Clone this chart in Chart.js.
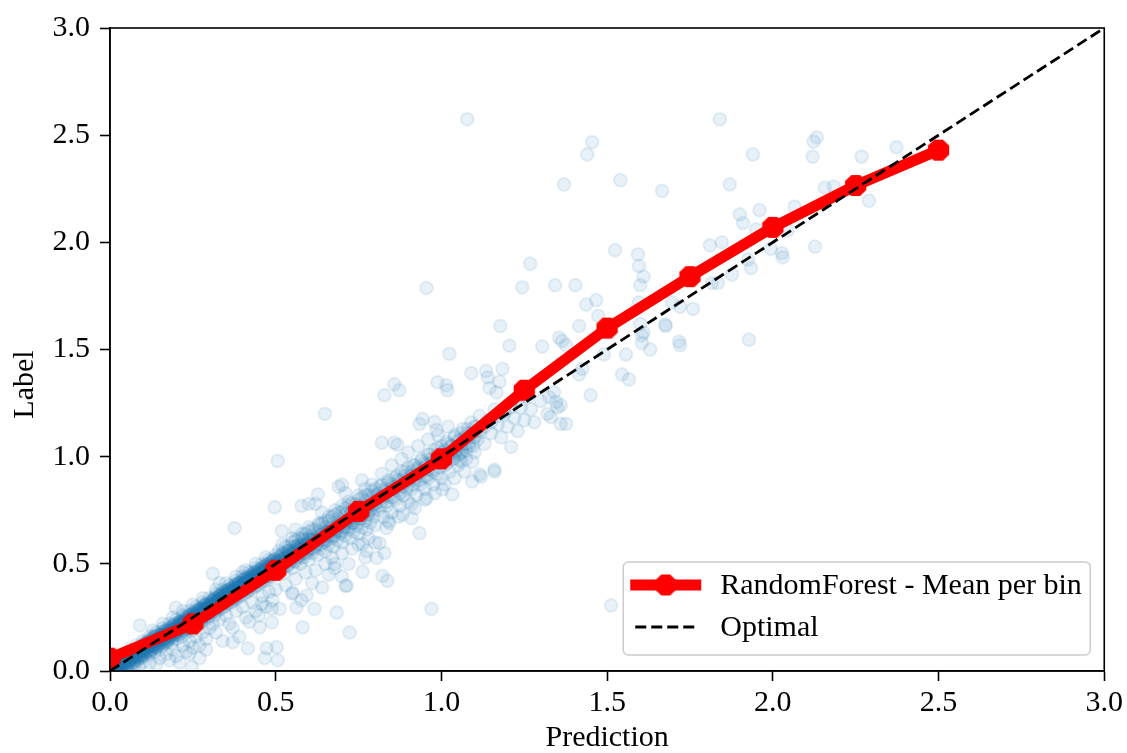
<!DOCTYPE html>
<html>
<head>
<meta charset="utf-8">
<script src="https://cdn.jsdelivr.net/npm/chart.js@4/dist/chart.umd.min.js"></script>
<style>
  html, body { margin: 0; padding: 0; background: #ffffff; }
  #wrap { width: 1127px; height: 753px; }
</style>
</head>
<body>
<div id="wrap"><canvas id="c" width="1127" height="753"></canvas></div>
<script>
// ---------- DATA ----------
const tickValues = [0.0, 0.5, 1.0, 1.5, 2.0, 2.5, 3.0];

// mean per bin (RandomForest)
const binPrediction = [0.0, 0.25, 0.5, 0.75, 1.0, 1.25, 1.5, 1.75, 2.0, 2.25, 2.5];
const binLabel      = [0.06, 0.22, 0.47, 0.745, 0.99, 1.31, 1.60, 1.84, 2.07, 2.265, 2.43];

// optimal diagonal
const optimalX = [0.0, 3.0];
const optimalY = [0.0, 3.0];

// scatter [prediction, label] — dense band near the diagonal
const bandLow = [
[0.005,0.00],[0.008,0.02],[0.01,0.01],[0.012,0.03],[0.015,0.00],[0.018,0.02],[0.02,0.04],[0.022,0.01],[0.025,0.03],[0.028,0.00],
[0.03,0.05],[0.032,0.02],[0.035,0.04],[0.037,0.01],[0.04,0.03],[0.042,0.06],[0.045,0.02],[0.047,0.04],[0.05,0.05],[0.052,0.01],
[0.055,0.07],[0.057,0.03],[0.06,0.05],[0.062,0.02],[0.065,0.06],[0.067,0.08],[0.07,0.04],[0.072,0.06],[0.075,0.03],[0.077,0.09],
[0.08,0.07],[0.082,0.05],[0.085,0.08],[0.087,0.02],[0.09,0.09],[0.092,0.06],[0.095,0.10],[0.097,0.04],[0.10,0.08],[0.10,0.11],
[0.013,0.01],[0.023,0.02],[0.033,0.03],[0.043,0.04],[0.053,0.04],[0.063,0.06],[0.073,0.07],[0.083,0.07],[0.093,0.09],[0.103,0.09]
];
const bandA = [
[0.102,0.10],[0.105,0.13],[0.107,0.07],[0.11,0.12],[0.112,0.09],[0.115,0.14],[0.117,0.11],[0.12,0.08],[0.122,0.13],[0.125,0.15],
[0.127,0.10],[0.13,0.12],[0.132,0.16],[0.135,0.09],[0.137,0.14],[0.14,0.11],[0.142,0.17],[0.145,0.13],[0.147,0.15],[0.15,0.10],
[0.152,0.16],[0.155,0.14],[0.157,0.18],[0.16,0.12],[0.162,0.15],[0.165,0.17],[0.167,0.13],[0.17,0.19],[0.172,0.16],[0.175,0.14],
[0.177,0.18],[0.18,0.15],[0.182,0.20],[0.185,0.17],[0.187,0.13],[0.19,0.19],[0.192,0.16],[0.195,0.21],[0.197,0.18],[0.20,0.15],
[0.202,0.20],[0.205,0.22],[0.207,0.17],[0.21,0.19],[0.212,0.23],[0.215,0.20],[0.217,0.16],[0.22,0.22],[0.222,0.19],[0.225,0.24],
[0.227,0.21],[0.23,0.18],[0.232,0.23],[0.235,0.25],[0.237,0.20],[0.24,0.22],[0.242,0.26],[0.245,0.24],[0.247,0.19],[0.25,0.23],
[0.252,0.27],[0.255,0.25],[0.257,0.21],[0.26,0.24],[0.262,0.28],[0.265,0.26],[0.267,0.22],[0.27,0.25],[0.272,0.29],[0.275,0.27],
[0.277,0.23],[0.28,0.26],[0.282,0.30],[0.285,0.28],[0.287,0.24],[0.29,0.27],[0.292,0.31],[0.295,0.29],[0.297,0.25],[0.30,0.28],
[0.101,0.12],[0.106,0.10],[0.111,0.13],[0.116,0.12],[0.121,0.11],[0.126,0.13],[0.131,0.14],[0.136,0.12],[0.141,0.15],[0.146,0.14],
[0.151,0.13],[0.156,0.16],[0.161,0.17],[0.166,0.15],[0.171,0.17],[0.176,0.16],[0.181,0.18],[0.186,0.19],[0.191,0.17],[0.196,0.19],
[0.201,0.18],[0.206,0.20],[0.211,0.21],[0.216,0.22],[0.221,0.20],[0.226,0.23],[0.231,0.21],[0.236,0.23],[0.241,0.24],[0.246,0.22],
[0.251,0.25],[0.256,0.26],[0.261,0.23],[0.266,0.27],[0.271,0.27],[0.276,0.25],[0.281,0.28],[0.286,0.29],[0.291,0.26],[0.296,0.30],
[0.113,0.11],[0.123,0.12],[0.133,0.12],[0.143,0.14],[0.153,0.15],[0.163,0.15],[0.173,0.17],[0.183,0.18],[0.193,0.18],[0.203,0.20],
[0.213,0.21],[0.223,0.21],[0.233,0.23],[0.243,0.24],[0.253,0.24],[0.263,0.26],[0.273,0.27],[0.283,0.27],[0.293,0.29]
];
const bandB = [
[0.302,0.31],[0.305,0.27],[0.307,0.33],[0.31,0.29],[0.312,0.32],[0.315,0.26],[0.317,0.34],[0.32,0.30],[0.322,0.33],[0.325,0.28],
[0.327,0.35],[0.33,0.31],[0.332,0.34],[0.335,0.29],[0.337,0.36],[0.34,0.32],[0.342,0.35],[0.345,0.30],[0.347,0.37],[0.35,0.33],
[0.352,0.36],[0.355,0.31],[0.357,0.38],[0.36,0.34],[0.362,0.37],[0.365,0.32],[0.367,0.39],[0.37,0.35],[0.372,0.38],[0.375,0.33],
[0.377,0.40],[0.38,0.36],[0.382,0.39],[0.385,0.34],[0.387,0.41],[0.39,0.37],[0.392,0.40],[0.395,0.35],[0.397,0.42],[0.40,0.38],
[0.402,0.41],[0.405,0.36],[0.407,0.43],[0.41,0.39],[0.412,0.42],[0.415,0.37],[0.417,0.44],[0.42,0.40],[0.422,0.43],[0.425,0.38],
[0.427,0.45],[0.43,0.41],[0.432,0.44],[0.435,0.39],[0.437,0.46],[0.44,0.42],[0.442,0.45],[0.445,0.40],[0.447,0.47],[0.45,0.43],
[0.452,0.46],[0.455,0.41],[0.457,0.48],[0.46,0.44],[0.462,0.47],[0.465,0.42],[0.467,0.49],[0.47,0.45],[0.472,0.48],[0.475,0.43],
[0.477,0.50],[0.48,0.46],[0.482,0.49],[0.485,0.44],[0.487,0.51],[0.49,0.47],[0.492,0.50],[0.495,0.45],[0.497,0.52],[0.50,0.48],
[0.303,0.30],[0.308,0.31],[0.313,0.30],[0.318,0.32],[0.323,0.31],[0.328,0.33],[0.333,0.32],[0.338,0.34],[0.343,0.33],[0.348,0.35],
[0.353,0.34],[0.358,0.36],[0.363,0.35],[0.368,0.37],[0.373,0.36],[0.378,0.38],[0.383,0.37],[0.388,0.39],[0.393,0.38],[0.398,0.40],
[0.403,0.39],[0.408,0.41],[0.413,0.40],[0.418,0.42],[0.423,0.41],[0.428,0.43],[0.433,0.42],[0.438,0.44],[0.443,0.43],[0.448,0.45],
[0.453,0.44],[0.458,0.46],[0.463,0.45],[0.468,0.47],[0.473,0.46],[0.478,0.48],[0.483,0.47],[0.488,0.49],[0.493,0.48],[0.498,0.50],
[0.313,0.31],[0.323,0.32],[0.343,0.34],[0.353,0.35],[0.373,0.37],[0.383,0.38],[0.403,0.40],[0.413,0.41],[0.433,0.43],[0.443,0.44],
[0.463,0.46],[0.473,0.47],[0.493,0.49]
];
const bandC = [
[0.505,0.51],[0.51,0.47],[0.515,0.54],[0.52,0.50],[0.525,0.46],[0.53,0.53],[0.535,0.49],[0.54,0.56],[0.545,0.52],[0.55,0.48],
[0.555,0.55],[0.56,0.51],[0.565,0.58],[0.57,0.54],[0.575,0.50],[0.58,0.57],[0.585,0.53],[0.59,0.60],[0.595,0.56],[0.60,0.52],
[0.605,0.59],[0.61,0.55],[0.615,0.62],[0.62,0.58],[0.625,0.54],[0.63,0.61],[0.635,0.57],[0.64,0.64],[0.645,0.60],[0.65,0.56],
[0.655,0.63],[0.66,0.59],[0.665,0.66],[0.67,0.62],[0.675,0.58],[0.68,0.65],[0.685,0.61],[0.69,0.68],[0.695,0.64],[0.70,0.60],
[0.705,0.67],[0.71,0.63],[0.715,0.70],[0.72,0.66],[0.725,0.62],[0.73,0.69],[0.735,0.65],[0.74,0.72],[0.745,0.68],[0.75,0.64],
[0.755,0.71],[0.76,0.67],[0.765,0.74],[0.77,0.70],[0.775,0.66],[0.78,0.73],[0.785,0.69],[0.79,0.76],[0.795,0.72],[0.80,0.68],
[0.508,0.50],[0.518,0.52],[0.528,0.51],[0.538,0.53],[0.548,0.55],[0.558,0.54],[0.568,0.56],[0.578,0.58],[0.588,0.57],[0.598,0.59],
[0.608,0.61],[0.618,0.60],[0.628,0.62],[0.638,0.64],[0.648,0.63],[0.658,0.65],[0.668,0.67],[0.678,0.66],[0.688,0.68],[0.698,0.70],
[0.708,0.69],[0.718,0.71],[0.728,0.73],[0.738,0.72],[0.748,0.74],[0.758,0.76],[0.768,0.75],[0.778,0.77],[0.788,0.79],[0.798,0.78],
[0.513,0.51],[0.533,0.53],[0.553,0.55],[0.573,0.57],[0.593,0.59],[0.613,0.61],[0.633,0.63],[0.653,0.65]
];
const bandD = [
[0.805,0.82],[0.81,0.75],[0.815,0.86],[0.82,0.79],[0.825,0.72],[0.83,0.84],[0.835,0.77],[0.84,0.88],[0.845,0.81],[0.85,0.74],
[0.855,0.86],[0.86,0.80],[0.865,0.91],[0.87,0.84],[0.875,0.77],[0.88,0.89],[0.885,0.82],[0.89,0.93],[0.895,0.86],[0.90,0.79],
[0.905,0.91],[0.91,0.85],[0.915,0.96],[0.92,0.89],[0.925,0.82],[0.93,0.94],[0.935,0.87],[0.94,0.98],[0.945,0.91],[0.95,0.85],
[0.955,0.96],[0.96,0.90],[0.965,1.01],[0.97,0.94],[0.975,0.87],[0.98,0.99],[0.985,0.92],[0.99,1.04],[0.995,0.97],[1.00,0.90],
[1.005,1.02],[1.01,0.96],[1.015,1.07],[1.02,1.00],[1.025,0.93],[1.03,1.05],[1.035,0.99],[1.04,1.10],[1.045,1.03],[1.05,0.96],
[1.055,1.08],[1.06,1.02],[1.065,1.13],[1.07,1.06],[1.075,0.99],[1.08,1.11],[1.085,1.05],[1.09,1.16],[1.095,1.09],[1.10,1.02],
[1.105,1.14],[1.11,1.08],[1.115,1.19],[1.12,1.12],[1.13,1.06],[1.14,1.17],[1.15,1.11],[1.16,1.22],[1.17,1.15],[1.18,1.09],
[1.19,1.20],[1.20,1.14],[1.21,1.25],[1.22,1.18],[1.23,1.12],[1.24,1.23],[1.25,1.17],[1.26,1.28],[1.27,1.22],[1.28,1.16],
[1.30,1.26],[1.32,1.20],[1.34,1.30],[1.36,1.24],
[0.81,0.81],[0.83,0.82],[0.85,0.85],[0.87,0.87],[0.89,0.88],[0.91,0.91],[0.93,0.92],[0.95,0.95],[0.97,0.97],[0.99,0.98],
[1.01,1.01],[1.03,1.02],[1.05,1.05],[1.07,1.08],[1.09,1.10],[1.11,1.12],[1.13,1.14],[1.15,1.16],[1.17,1.19],[1.19,1.21],
[1.21,1.23],[1.23,1.26]
];
const bandUpper = [
[0.01,0.03],[0.02,0.05],[0.03,0.05],[0.04,0.08],[0.05,0.07],[0.06,0.10],[0.07,0.09],[0.08,0.12],[0.09,0.11],[0.10,0.14],
[0.11,0.13],[0.12,0.16],[0.13,0.15],[0.14,0.18],[0.15,0.17],[0.16,0.20],[0.17,0.19],[0.18,0.22],[0.19,0.21],[0.20,0.24],
[0.21,0.23],[0.22,0.26],[0.23,0.25],[0.24,0.28],[0.25,0.27],[0.26,0.30],[0.27,0.29],[0.28,0.32],[0.29,0.31],[0.30,0.34],
[0.31,0.33],[0.32,0.36],[0.33,0.35],[0.34,0.38],[0.35,0.37],[0.36,0.40],[0.37,0.39],[0.38,0.42],[0.39,0.41],[0.40,0.44],
[0.41,0.43],[0.42,0.46],[0.43,0.45],[0.44,0.48],[0.45,0.47],[0.46,0.50],[0.47,0.49],[0.48,0.52],[0.49,0.51],[0.50,0.54],
[0.51,0.56],[0.52,0.55],[0.53,0.58],[0.54,0.58],[0.55,0.60],[0.56,0.61],[0.57,0.62],[0.58,0.62],[0.59,0.64],[0.60,0.65],
[0.61,0.66],[0.62,0.66],[0.63,0.68],[0.64,0.69],[0.65,0.70],[0.66,0.70],[0.67,0.72],[0.68,0.73],[0.69,0.74],[0.70,0.74],
[0.71,0.76],[0.72,0.77],[0.73,0.78],[0.74,0.78],[0.75,0.80],[0.76,0.81],[0.77,0.82],[0.78,0.82],[0.79,0.84],[0.80,0.85],
[0.82,0.87],[0.84,0.89],[0.86,0.90],[0.88,0.93],[0.90,0.95],[0.92,0.96],[0.94,0.99],[0.96,1.01],[0.98,1.03],[1.00,1.05],
[1.02,1.06],[1.04,1.09],[1.06,1.11],[1.08,1.13],[1.10,1.14]
];
const bandLower = [
[0.015,0.00],[0.025,0.01],[0.035,0.01],[0.045,0.03],[0.055,0.03],[0.065,0.05],[0.075,0.05],[0.085,0.06],[0.095,0.07],[0.105,0.08],
[0.115,0.09],[0.125,0.10],[0.135,0.11],[0.145,0.12],[0.155,0.13],[0.165,0.14],[0.175,0.15],[0.185,0.16],[0.195,0.17],[0.205,0.18],
[0.215,0.18],[0.225,0.20],[0.235,0.20],[0.245,0.22],[0.255,0.22],[0.265,0.24],[0.275,0.24],[0.285,0.26],[0.295,0.26],[0.305,0.28],
[0.315,0.28],[0.325,0.30],[0.335,0.30],[0.345,0.32],[0.355,0.32],[0.365,0.34],[0.375,0.34],[0.385,0.36],[0.395,0.36],[0.405,0.38],
[0.415,0.38],[0.425,0.40],[0.435,0.40],[0.445,0.42],[0.455,0.42],[0.465,0.44],[0.475,0.44],[0.485,0.46],[0.495,0.46],
[0.515,0.47],[0.525,0.49],[0.535,0.49],[0.545,0.51],[0.555,0.51],[0.565,0.53],[0.575,0.53],[0.585,0.55],[0.595,0.55],[0.605,0.57],
[0.615,0.57],[0.625,0.59],[0.635,0.59],[0.645,0.61],[0.655,0.61],[0.665,0.63],[0.675,0.63],[0.685,0.65],[0.695,0.65],[0.705,0.67],
[0.715,0.67],[0.725,0.69],[0.735,0.69],[0.745,0.71],[0.755,0.71],[0.765,0.73],[0.775,0.73],[0.785,0.75],[0.795,0.75],[0.815,0.77],
[0.835,0.79],[0.855,0.81],[0.875,0.83],[0.895,0.85],[0.915,0.87],[0.935,0.89],[0.955,0.91],[0.975,0.93],[0.995,0.95],[1.015,0.97],
[1.035,0.99],[1.055,1.01],[1.075,1.03],[1.095,1.05]
];
const bandCore = [
[0.012,0.02],[0.022,0.03],[0.032,0.04],[0.042,0.05],[0.052,0.06],[0.062,0.07],[0.072,0.08],[0.082,0.09],[0.092,0.10],[0.102,0.11],
[0.112,0.12],[0.122,0.13],[0.132,0.14],[0.142,0.15],[0.152,0.16],[0.162,0.17],[0.172,0.18],[0.182,0.19],[0.192,0.20],[0.202,0.21],
[0.212,0.22],[0.222,0.23],[0.232,0.24],[0.242,0.25],[0.252,0.26],[0.262,0.27],[0.272,0.28],[0.282,0.29],[0.292,0.30],[0.302,0.31],
[0.312,0.32],[0.322,0.33],[0.332,0.34],[0.342,0.35],[0.352,0.36],[0.362,0.37],[0.372,0.38],[0.382,0.39],[0.392,0.40],[0.402,0.41],
[0.412,0.42],[0.422,0.43],[0.432,0.44],[0.442,0.45]
];
const bandDense1 = [
[0.005,0.01],[0.01,0.00],[0.015,0.04],[0.02,0.02],[0.025,0.01],[0.03,0.05],[0.035,0.04],[0.04,0.03],[0.045,0.07],[0.05,0.05],
[0.055,0.04],[0.06,0.08],[0.065,0.07],[0.07,0.06],[0.075,0.10],[0.08,0.08],[0.085,0.07],[0.09,0.11],[0.095,0.10],[0.10,0.09],
[0.105,0.13],[0.11,0.11],[0.115,0.10],[0.12,0.14],[0.125,0.13],[0.13,0.12],[0.135,0.16],[0.14,0.14],[0.145,0.13],[0.15,0.17],
[0.155,0.16],[0.16,0.15],[0.165,0.19],[0.17,0.17],[0.175,0.16],[0.18,0.20],[0.185,0.19],[0.19,0.18],[0.195,0.22],[0.20,0.20],
[0.205,0.19],[0.21,0.23],[0.215,0.22],[0.22,0.21],[0.225,0.25],[0.23,0.23],[0.235,0.22],[0.24,0.26],[0.245,0.25],[0.25,0.24],
[0.255,0.28],[0.26,0.26],[0.265,0.25],[0.27,0.29],[0.275,0.28],[0.28,0.27],[0.285,0.31],[0.29,0.29],[0.295,0.28],[0.30,0.32],
[0.305,0.31],[0.31,0.30],[0.315,0.34],[0.32,0.32],[0.325,0.31],[0.33,0.35],[0.335,0.34],[0.34,0.33],[0.345,0.37],[0.35,0.35],
[0.355,0.34],[0.36,0.38],[0.365,0.37],[0.37,0.36],[0.375,0.40],[0.38,0.38],[0.385,0.37],[0.39,0.41],[0.395,0.40],[0.40,0.39],
[0.405,0.43],[0.41,0.41],[0.415,0.40],[0.42,0.44],[0.425,0.43],[0.43,0.42],[0.435,0.46],[0.44,0.44],[0.445,0.43],[0.45,0.47],
[0.455,0.46],[0.46,0.45],[0.465,0.49],[0.47,0.47],[0.475,0.46],[0.48,0.50],[0.485,0.49],[0.49,0.48],[0.495,0.52],[0.50,0.50],
[0.505,0.49],[0.51,0.53],[0.515,0.52],[0.52,0.51],[0.525,0.55],[0.53,0.53],[0.535,0.52],[0.54,0.56],[0.545,0.55],[0.55,0.54],
[0.555,0.58],[0.56,0.56],[0.565,0.55],[0.57,0.59],[0.575,0.58],[0.58,0.57],[0.585,0.61],[0.59,0.59],[0.595,0.58],[0.60,0.62]
];
const bandDense2 = [
[0.007,0.00],[0.012,0.03],[0.017,0.02],[0.022,0.00],[0.027,0.04],[0.032,0.02],[0.037,0.06],[0.042,0.04],[0.047,0.02],[0.052,0.06],
[0.057,0.05],[0.062,0.08],[0.067,0.07],[0.072,0.04],[0.077,0.09],[0.082,0.07],[0.087,0.11],[0.092,0.09],[0.097,0.07],[0.102,0.11],
[0.107,0.10],[0.112,0.13],[0.117,0.12],[0.122,0.09],[0.127,0.14],[0.132,0.12],[0.137,0.16],[0.142,0.14],[0.147,0.12],[0.152,0.16],
[0.157,0.15],[0.162,0.18],[0.167,0.17],[0.172,0.14],[0.177,0.19],[0.182,0.17],[0.187,0.21],[0.192,0.19],[0.197,0.17],[0.202,0.21],
[0.207,0.20],[0.212,0.23],[0.217,0.22],[0.222,0.19],[0.227,0.24],[0.232,0.22],[0.237,0.26],[0.242,0.24],[0.247,0.22],[0.252,0.26],
[0.257,0.25],[0.262,0.28],[0.267,0.27],[0.272,0.24],[0.277,0.29],[0.282,0.27],[0.287,0.31],[0.292,0.29],[0.297,0.27],[0.302,0.31],
[0.307,0.30],[0.312,0.33],[0.317,0.32],[0.322,0.29],[0.327,0.34],[0.332,0.32],[0.337,0.36],[0.342,0.34],[0.347,0.32],[0.352,0.36],
[0.357,0.35],[0.362,0.38],[0.367,0.37],[0.372,0.34],[0.377,0.39],[0.382,0.37],[0.387,0.41],[0.392,0.39],[0.397,0.37],[0.402,0.41],
[0.407,0.40],[0.412,0.43],[0.417,0.42],[0.422,0.39],[0.427,0.44],[0.432,0.42],[0.437,0.46],[0.442,0.44],[0.447,0.42],[0.452,0.46],
[0.457,0.45],[0.462,0.48],[0.467,0.47],[0.472,0.44],[0.477,0.49],[0.482,0.47],[0.487,0.51],[0.492,0.49],[0.497,0.47],[0.502,0.51],
[0.507,0.50],[0.512,0.53],[0.517,0.52],[0.522,0.49],[0.527,0.54],[0.532,0.52],[0.537,0.56],[0.542,0.54],[0.547,0.52],[0.552,0.56],
[0.557,0.55],[0.562,0.58],[0.567,0.57],[0.572,0.54],[0.577,0.59],[0.582,0.57],[0.587,0.61],[0.592,0.59],[0.597,0.57],[0.602,0.61]
];
const bandDense3 = [
[0.61,0.63],[0.62,0.61],[0.63,0.65],[0.64,0.62],[0.65,0.67],[0.66,0.65],[0.67,0.69],[0.68,0.66],[0.69,0.71],[0.70,0.69],
[0.71,0.73],[0.72,0.70],[0.73,0.75],[0.74,0.73],[0.75,0.77],[0.76,0.74],[0.77,0.79],[0.78,0.77],[0.79,0.81],[0.80,0.78],
[0.81,0.83],[0.82,0.81],[0.83,0.85],[0.84,0.82],[0.85,0.87],[0.86,0.85],[0.87,0.89],[0.88,0.86],[0.89,0.91],[0.90,0.89],
[0.91,0.93],[0.92,0.90],[0.93,0.95],[0.94,0.93],[0.95,0.97],[0.96,0.94],[0.97,0.99],[0.98,0.97],[0.99,1.01],[1.00,0.98],
[1.01,1.03],[1.02,1.01],[1.03,1.05],[1.04,1.02],[1.05,1.07],[1.06,1.05],[1.07,1.09],[1.08,1.06],[1.09,1.11],[1.10,1.09]
];
// wider spread around the band
const spreadPoints = [
[0.12,0.04],[0.15,0.06],[0.17,0.08],[0.19,0.10],[0.20,0.07],[0.22,0.12],[0.23,0.09],[0.24,0.14],[0.25,0.11],[0.26,0.16],
[0.27,0.12],[0.28,0.18],[0.29,0.15],[0.30,0.20],[0.14,0.03],[0.18,0.05],[0.21,0.04],[0.24,0.08],[0.27,0.06],[0.29,0.10],
[0.13,0.19],[0.16,0.22],[0.19,0.25],[0.22,0.28],[0.25,0.31],[0.28,0.34],
[0.31,0.22],[0.33,0.24],[0.35,0.26],[0.36,0.22],[0.38,0.28],[0.40,0.30],[0.41,0.25],[0.43,0.32],[0.44,0.28],[0.46,0.35],
[0.47,0.30],[0.48,0.37],[0.49,0.33],[0.50,0.38],[0.32,0.18],[0.37,0.20],[0.42,0.23],[0.45,0.26],[0.34,0.14],[0.39,0.16],
[0.32,0.38],[0.35,0.41],[0.38,0.44],[0.41,0.47],[0.44,0.50],[0.47,0.53],[0.33,0.41],[0.40,0.46],
[0.52,0.59],[0.55,0.62],[0.58,0.64],[0.60,0.67],[0.63,0.69],[0.66,0.72],[0.68,0.75],[0.70,0.77],[0.72,0.79],[0.75,0.82],
[0.77,0.85],[0.79,0.87],[0.56,0.66],[0.64,0.74],[0.71,0.83],[0.76,0.89],[0.62,0.78],[0.69,0.86],
[0.53,0.40],[0.56,0.43],[0.59,0.46],[0.62,0.47],[0.65,0.50],[0.67,0.53],[0.70,0.55],[0.73,0.57],[0.75,0.59],[0.78,0.62],
[0.80,0.60],[0.55,0.36],[0.61,0.41],[0.66,0.45],[0.72,0.50],[0.77,0.53],[0.64,0.39],[0.70,0.44],
[0.82,0.92],[0.85,0.96],[0.88,0.99],[0.90,1.02],[0.93,1.05],[0.96,1.08],[0.99,1.10],[1.02,1.14],[0.84,0.70],[0.87,0.72],
[0.92,0.76],[0.95,0.80],[0.98,0.83],[1.01,0.87],[1.04,0.90],[1.07,0.93]
];
// isolated points read one by one
const outlierPoints = [
[1.078,2.574],[1.455,2.468],[1.44,2.41],[1.84,2.574],[1.94,2.41],[1.37,2.27],[1.54,2.29],[1.666,2.24],[1.87,2.27],[1.90,2.13],
[1.91,2.09],[1.96,2.15],[1.524,1.963],[1.593,1.944],[1.596,1.89],[1.61,1.84],[1.60,1.80],[1.268,1.90],[1.244,1.79],[1.343,1.80],
[1.404,1.80],[1.467,1.73],[1.437,1.71],[1.81,1.986],[1.846,2.0],[1.925,1.92],[1.934,1.88],[1.877,1.85],[1.816,1.81],[1.834,1.81],
[1.759,1.69],[1.72,1.70],[1.696,1.72],[1.675,1.616],[1.596,1.72],[1.60,1.62],[1.61,1.58],[1.178,1.61],[1.416,1.61],[1.473,1.657],
[1.928,1.546],[1.717,1.537],[2.133,2.49],[2.123,2.47],[2.12,2.40],[2.268,2.40],[2.373,2.444],[2.157,2.255],[2.184,2.26],[2.29,2.194],
[2.066,2.167],[2.127,1.98],[1.994,1.97],[2.027,1.95],[2.03,1.93],[2.045,2.056],[1.95,2.06],
[1.024,1.48],[1.205,1.518],[1.304,1.514],[1.355,1.555],[1.364,1.54],[1.376,1.52],[1.09,1.39],[1.135,1.40],[1.14,1.37],[1.145,1.32],
[1.175,1.35],[1.184,1.41],[0.988,1.347],[1.015,1.333],[1.018,1.31],[1.166,1.30],[1.45,1.287],[1.545,1.384],[1.566,1.36],[1.605,1.565],
[1.605,1.53],[1.63,1.50],[1.677,1.61],[1.72,1.52],[1.557,1.477],[1.49,1.477],[1.415,1.384],[1.425,1.41],[1.346,1.255],[1.35,1.23],
[1.33,1.185],[1.36,1.153],[1.376,1.153],[1.325,1.278],[1.21,1.046],[1.16,0.94],[1.093,0.884],[1.115,0.917],[1.06,0.977],[1.093,0.977],
[1.033,0.824],[0.648,1.20],[0.506,0.98],[0.497,0.764],[0.376,0.667],[0.518,0.653],[0.828,1.287],[0.858,1.338],[0.873,1.31],[0.82,1.065],
[0.858,1.065],[0.867,1.055],[0.934,1.153],[0.943,1.176],[0.979,1.162],[0.985,1.125],[0.70,0.87],[0.934,0.643],[0.627,0.824],[0.60,0.78],
[0.578,0.77],[0.762,0.593],[0.774,0.56],[0.813,0.597],[0.828,0.55],[0.804,0.528],[0.834,0.667],[0.843,0.69],[0.678,0.50],[0.91,0.713],
[0.883,0.73],[0.91,0.778],[0.955,0.806],[1.003,0.847],[1.054,0.986],[1.063,1.023],
[0.09,0.213],[0.31,0.454],[0.199,0.296],[0.247,0.018],[0.37,0.134],[0.416,0.106],[0.473,0.106],[0.503,0.111],[0.467,0.06],[0.506,0.05],
[0.452,0.204],[0.488,0.227],[0.488,0.29],[0.458,0.315],[0.512,0.29],[0.563,0.296],[0.617,0.29],[0.578,0.33],[0.581,0.204],[0.684,0.273],
[0.723,0.18],[0.678,0.48],[0.714,0.398],[0.593,0.352],[0.551,0.366],[0.762,0.463],[0.711,0.398],[0.822,0.444],[0.837,0.421],[0.97,0.29],
[1.12,0.907],[1.16,0.93],[1.512,0.306],[0.955,1.787]
];

const seriesNames = ['RandomForest - Mean per bin', 'Optimal'];
const axisTitles = { x: 'Prediction', y: 'Label' };

// ---------- BUILD ----------
const toXY = arr => arr.map(p => ({ x: p[0], y: p[1] }));
const scatterData = toXY([].concat(bandLow, bandA, bandB, bandC, bandD, bandUpper, bandLower, bandCore,
                                   bandDense1, bandDense2, bandDense3, spreadPoints, outlierPoints));
const binData = binPrediction.map((x, i) => ({ x: x, y: binLabel[i] }));
const optimalData = optimalX.map((x, i) => ({ x: x, y: optimalY[i] }));

const FONT = '"Liberation Serif", "Times New Roman", serif';
const FSIZE = 30;
const RED = '#ff0000';
const BLUE_A = 'rgba(31,119,180,0.1)';

function makeOctagon(r, color) {
  const s = Math.ceil(r * 2 + 2);
  const cv = document.createElement('canvas');
  cv.width = s; cv.height = s;
  const g = cv.getContext('2d');
  g.translate(s / 2, s / 2);
  g.beginPath();
  for (let k = 0; k < 8; k++) {
    const a = Math.PI / 8 + k * Math.PI / 4;
    const px = r * Math.cos(a), py = r * Math.sin(a);
    if (k === 0) g.moveTo(px, py); else g.lineTo(px, py);
  }
  g.closePath();
  g.fillStyle = color;
  g.fill();
  return cv;
}
const octagon = makeOctagon(11.5, RED);

const framePlugin = {
  id: 'frame',
  afterDatasetsDraw(chart) {
    const a = chart.chartArea, ctx = chart.ctx;
    ctx.save();
    ctx.strokeStyle = '#000';
    ctx.lineWidth = 1.6;
    ctx.strokeRect(a.left, a.top, a.right - a.left, a.bottom - a.top);
    ctx.restore();
  },
  afterDraw(chart) {
    const a = chart.chartArea, ctx = chart.ctx;
    ctx.save();
    ctx.fillStyle = '#000';
    ctx.font = FSIZE + 'px ' + FONT;
    ctx.textAlign = 'center';
    ctx.textBaseline = 'middle';
    ctx.translate(25, (a.top + a.bottom) / 2 + 35);
    ctx.rotate(-Math.PI / 2);
    ctx.fillText(axisTitles.y, 0, 0);
    ctx.restore();
  }
};

const legendPlugin = {
  id: 'mplLegend',
  afterDraw(chart) {
    const a = chart.chartArea, ctx = chart.ctx;
    const ds = chart.data.datasets;
    const boxR = a.right - 14, boxB = a.bottom - 16;
    const boxL = boxR - 467, boxT = boxB - 93;
    ctx.save();
    const r = 5;
    ctx.beginPath();
    ctx.moveTo(boxL + r, boxT);
    ctx.lineTo(boxR - r, boxT); ctx.arcTo(boxR, boxT, boxR, boxT + r, r);
    ctx.lineTo(boxR, boxB - r); ctx.arcTo(boxR, boxB, boxR - r, boxB, r);
    ctx.lineTo(boxL + r, boxB); ctx.arcTo(boxL, boxB, boxL, boxB - r, r);
    ctx.lineTo(boxL, boxT + r); ctx.arcTo(boxL, boxT, boxL + r, boxT, r);
    ctx.closePath();
    ctx.fillStyle = 'rgba(255,255,255,0.85)';
    ctx.fill();
    ctx.strokeStyle = '#cccccc';
    ctx.lineWidth = 1.5;
    ctx.stroke();

    const hx0 = boxL + 7, hx1 = boxL + 78;
    const y1 = boxT + 23, y2 = boxT + 65;
    const d1 = ds[1];
    ctx.strokeStyle = d1.borderColor;
    ctx.lineWidth = d1.borderWidth;
    ctx.lineCap = 'butt';
    ctx.beginPath(); ctx.moveTo(hx0, y1); ctx.lineTo(hx1, y1); ctx.stroke();
    ctx.drawImage(octagon, (hx0 + hx1) / 2 - octagon.width / 2, y1 - octagon.height / 2);
    const d0 = ds[0];
    ctx.strokeStyle = d0.borderColor;
    ctx.lineWidth = d0.borderWidth;
    ctx.setLineDash(d0.borderDash);
    ctx.beginPath(); ctx.moveTo(hx0 + 5, y2); ctx.lineTo(hx1 - 6, y2); ctx.stroke();
    ctx.setLineDash([]);
    ctx.fillStyle = '#000';
    ctx.font = FSIZE + 'px ' + FONT;
    ctx.textBaseline = 'middle';
    ctx.textAlign = 'left';
    ctx.fillText(d1.label, boxL + 97, y1 + 1);
    ctx.fillText(d0.label, boxL + 97, y2 + 1);
    ctx.restore();
  }
};

const axisCommon = {
  type: 'linear',
  min: 0, max: 3,
  afterBuildTicks(scale) { scale.ticks = tickValues.map(v => ({ value: v })); },
  grid: { display: true, drawOnChartArea: false, drawTicks: true, tickLength: 10, tickWidth: 1.6, tickColor: '#000' },
  border: { display: true, color: '#000', width: 1.6 },
};

new Chart(document.getElementById('c'), {
  type: 'scatter',
  data: {
    datasets: [
      {
        label: seriesNames[1],
        type: 'line',
        data: optimalData,
        borderColor: '#000000',
        borderWidth: 2.8,
        borderDash: [11, 5],
        pointRadius: 0,
        fill: false,
        order: 0,
        clip: 0
      },
      {
        label: seriesNames[0],
        type: 'line',
        data: binData,
        borderColor: RED,
        backgroundColor: RED,
        borderWidth: 11,
        borderJoinStyle: 'round',
        pointStyle: octagon,
        pointRadius: 11,
        pointBorderWidth: 0,
        fill: false,
        tension: 0,
        order: 1,
        clip: 0
      },
      {
        label: 'scatter',
        data: scatterData,
        backgroundColor: BLUE_A,
        borderColor: BLUE_A,
        borderWidth: 2,
        pointRadius: 6.4,
        pointStyle: 'circle',
        order: 2,
        clip: 0
      }
    ]
  },
  options: {
    responsive: false,
    animation: false,
    events: [],
    layout: { padding: { left: 0, right: 21, top: 23, bottom: 0 } },
    plugins: { legend: { display: false }, tooltip: { enabled: false } },
    scales: {
      x: Object.assign({}, axisCommon, {
        position: 'bottom',
        afterFit(scale) { scale.height = 82; },
        ticks: { color: '#000', font: { family: FONT, size: FSIZE }, padding: 4, maxRotation: 0, autoSkip: false,
                 callback: v => Number(v).toFixed(1) },
        title: { display: true, text: axisTitles.x, color: '#000', font: { family: FONT, size: FSIZE, lineHeight: 1.0 },
                 padding: { top: 0, bottom: 0 } }
      }),
      y: Object.assign({}, axisCommon, {
        position: 'left',
        afterFit(scale) { scale.width = 110; },
        ticks: { color: '#000', font: { family: FONT, size: FSIZE }, padding: 10, autoSkip: false,
                 callback: v => Number(v).toFixed(1) },
        title: { display: false }
      })
    }
  },
  plugins: [framePlugin, legendPlugin]
});
</script>
</body>
</html>
